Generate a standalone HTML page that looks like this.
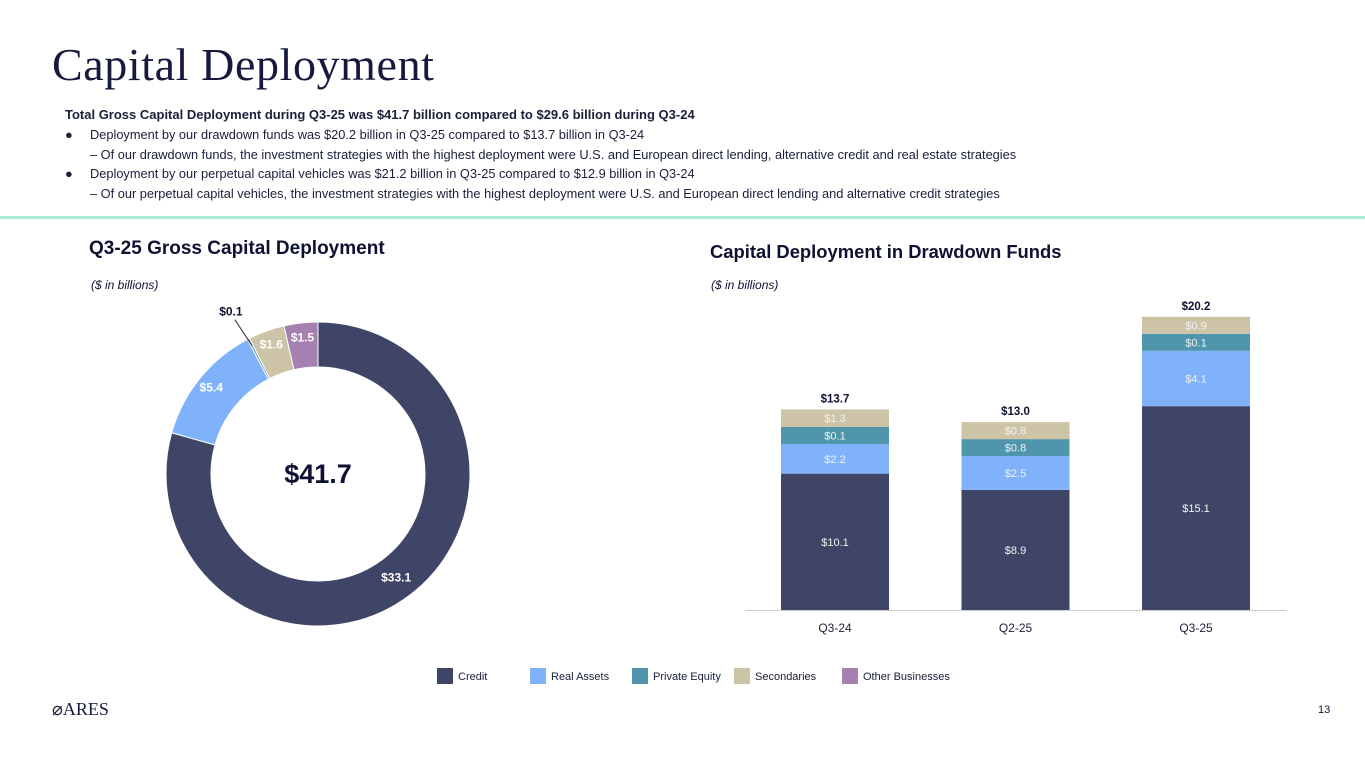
<!DOCTYPE html>
<html><head><meta charset="utf-8"><style>
body{margin:0;width:1365px;height:768px;background:#fff;position:relative;overflow:hidden;font-family:"Liberation Sans",sans-serif;color:#0d1233}
.abs{position:absolute}
.t{font-size:12.8px;color:#1a1f3a;white-space:nowrap}
</style></head><body>
<div class="abs" style="left:52px;top:38px;font-family:'Liberation Serif',serif;font-size:46px;letter-spacing:0.6px;color:#151a3d;">Capital Deployment</div>
<div class="abs t" style="left:65px;top:107px;font-weight:bold;font-size:13px">Total Gross Capital Deployment during Q3-25 was $41.7 billion compared to $29.6 billion during Q3-24</div>
<div class="abs t" style="left:65px;top:127px">●<span style="position:absolute;left:25px">Deployment by our drawdown funds was $20.2 billion in Q3-25 compared to $13.7 billion in Q3-24</span></div>
<div class="abs t" style="left:90px;top:147px">– Of our drawdown funds, the investment strategies with the highest deployment were U.S. and European direct lending, alternative credit and real estate strategies</div>
<div class="abs t" style="left:65px;top:166px">●<span style="position:absolute;left:25px">Deployment by our perpetual capital vehicles was $21.2 billion in Q3-25 compared to $12.9 billion in Q3-24</span></div>
<div class="abs t" style="left:90px;top:186px">– Of our perpetual capital vehicles, the investment strategies with the highest deployment were U.S. and European direct lending and alternative credit strategies</div>
<div class="abs" style="left:0;top:216px;width:1365px;height:3px;background:#a8ecdc"></div>
<div class="abs" style="left:89px;top:238px;font-weight:bold;font-size:19px">Q3-25 Gross Capital Deployment</div>
<div class="abs" style="left:91px;top:278px;font-style:italic;font-size:12px">($ in billions)</div>
<div class="abs" style="left:710px;top:241px;font-weight:bold;font-size:18.4px">Capital Deployment in Drawdown Funds</div>
<div class="abs" style="left:711px;top:278px;font-style:italic;font-size:12px">($ in billions)</div>
<svg class="abs" style="left:0;top:0" width="1365" height="768">
<g id="donut"></g><g id="bars"></g><g id="legend"></g>
</svg>
<div class="abs" style="left:52px;top:699px;font-family:'Liberation Serif',serif;font-size:18px;color:#151a3d">⌀ARES</div>
<div class="abs" style="left:1318px;top:704px;font-size:11px">13</div>
<script>
const NS='http://www.w3.org/2000/svg';
const segNames=['Credit','Real Assets','Private Equity','Secondaries','Other Businesses'];
const segColors=['#3f4566','#7fb2fb','#4f96ac','#cdc4a8','#a580b0'];
const donutValues=[33.1,5.4,0.1,1.6,1.5];
const donutTotal='$41.7';
const barCats=['Q3-24','Q2-25','Q3-25'];
const credit=[10.1,8.9,15.1];
const realAssets=[2.2,2.5,4.1];
const privateEquity=[0.1,0.8,0.1];
const secondaries=[1.3,0.8,0.9];
function mk(tag,attrs,parent,txt){const e=document.createElementNS(NS,tag);for(const k in attrs)e.setAttribute(k,attrs[k]);if(txt!=null)e.textContent=txt;parent.appendChild(e);return e;}
// donut
const dg=document.getElementById('donut');
const cx=318,cy=474,R=152,r=107;
const sum=donutValues.reduce((a,b)=>a+b,0);
let a0=0;
donutValues.forEach((v,i)=>{
 const a1=a0+v/sum*2*Math.PI;
 const p=(ang,rad)=>[cx+rad*Math.sin(ang),cy-rad*Math.cos(ang)];
 const [x1,y1]=p(a0,R),[x2,y2]=p(a1,R),[x3,y3]=p(a1,r),[x4,y4]=p(a0,r);
 const lg=(a1-a0)>Math.PI?1:0;
 const s=mk('path',{d:`M${x1},${y1}A${R},${R} 0 ${lg} 1 ${x2},${y2}L${x3},${y3}A${r},${r} 0 ${lg} 0 ${x4},${y4}Z`,fill:segColors[i],stroke:'#fff','stroke-width':1},dg);
 
 
 const m=(a0+a1)/2;
 const lab='$'+v.toFixed(1);
 if(v<0.5){
  const [lx,ly]=p(m,R-8),[ox,oy]=p(m,R+8);
  mk('line',{x1:lx,y1:ly,x2:ox-10,y2:oy-12,stroke:'#333','stroke-width':1},dg);
  const t=mk('text',{x:ox-14,y:oy-16,'text-anchor':'middle','font-size':12,'font-weight':'bold',fill:'#0d1233'},dg,lab);
  
  
 } else {
  const rr=v>20?(R+r)/2+0:(R+r)/2+8;
  const [lx,ly]=p(m,rr);
  const t=mk('text',{x:lx,y:ly+4,'text-anchor':'middle','font-size':12,'font-weight':'bold',fill:'#fff'},dg,lab);
  
  
 }
 a0=a1;
});
const ct=mk('text',{x:cx,y:cy+9,'text-anchor':'middle','font-size':27,'font-weight':'bold',fill:'#0d1233'},dg,donutTotal);


// bars
const bg=document.getElementById('bars');
const base=610,k=13.5,bw=108,minH=17;
const xc=i=>835+i*180.5;
const ax=mk('line',{x1:745,y1:base+0.5,x2:1287,y2:base+0.5,stroke:'#ccc','stroke-width':1},bg);


const series=[credit,realAssets,privateEquity,secondaries];
barCats.forEach((c,i)=>{
 let y=base,tot=0;
 series.forEach((s,j)=>{
  const v=s[i];tot+=v;
  const h=Math.max(minH,v*k);
  y-=h;
  const rc=mk('rect',{x:xc(i)-bw/2,y:y,width:bw,height:h,fill:segColors[j]},bg);
  
  
  const t=mk('text',{x:xc(i),y:y+h/2+4,'text-anchor':'middle','font-size':11,fill:'#f2f2f2'},bg,'$'+v.toFixed(1));
  
  
 });
 const tt=mk('text',{x:xc(i),y:y-7,'text-anchor':'middle','font-size':11.5,'font-weight':'bold',fill:'#0d1233'},bg,'$'+tot.toFixed(1));
 
 
 const xl=mk('text',{x:xc(i),y:632,'text-anchor':'middle','font-size':12,fill:'#1a1f3a'},bg,c);
 
 
});
// legend
const lg=document.getElementById('legend');
const lx=[437,530,632,734,842];
segNames.forEach((n,i)=>{
 const g=mk('g',{},lg);
 
 
 mk('rect',{x:lx[i],y:668,width:16,height:16,fill:segColors[i]},g);
 mk('text',{x:lx[i]+21,y:680,'font-size':11,fill:'#1a1f3a'},g,n);
});
</script>
</body></html>
